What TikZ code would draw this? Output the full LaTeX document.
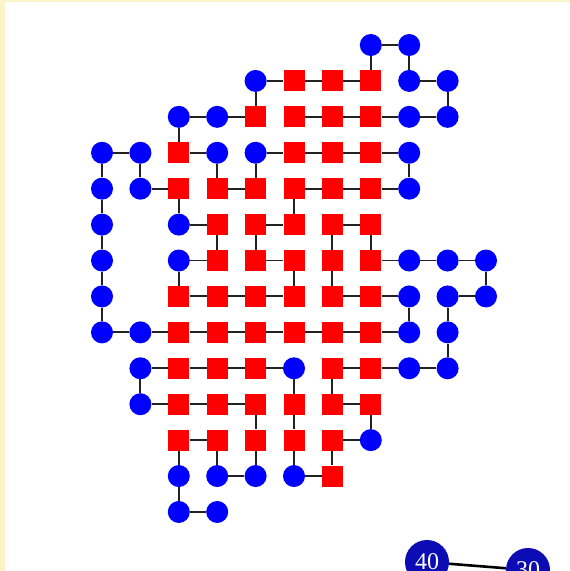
\documentclass[tikz,border=0pt]{standalone}
\usepackage{fontspec}
\newfontfamily\numfont{Liberation Serif}
\definecolor{bgyellow}{RGB}{250,245,200}
\definecolor{bigblue}{RGB}{12,12,180}
\definecolor{linkgray}{RGB}{34,34,34}
\begin{document}
\begin{tikzpicture}[x=1pt,y=-1pt,
  bn/.style={circle,fill=blue,draw=none,inner sep=0pt,minimum size=22pt},
  rn/.style={rectangle,fill=red,draw=none,inner sep=0pt,minimum size=21pt},
  link/.style={draw=linkgray,line width=1.9pt},
  bignode/.style={circle,fill=bigblue,draw=none,inner sep=0pt,minimum size=44pt,text=white,font=\numfont\fontsize{24}{24}\selectfont},
  biglink/.style={draw=black,line width=2.6pt}]
\useasboundingbox (0,0) rectangle (570,571);
\clip (0,0) rectangle (570,571);
\fill[bgyellow] (0,0) rectangle (570,571);
\fill[white] (5,2) rectangle (570,571);
% grid nodes
\foreach \r/\lst in {
  0/{7/bn,8/bn},
  1/{4/bn,5/rn,6/rn,7/rn,8/bn,9/bn},
  2/{2/bn,3/bn,4/rn,5/rn,6/rn,7/rn,8/bn,9/bn},
  3/{0/bn,1/bn,2/rn,3/bn,4/bn,5/rn,6/rn,7/rn,8/bn},
  4/{0/bn,1/bn,2/rn,3/rn,4/rn,5/rn,6/rn,7/rn,8/bn},
  5/{0/bn,2/bn,3/rn,4/rn,5/rn,6/rn,7/rn},
  6/{0/bn,2/bn,3/rn,4/rn,5/rn,6/rn,7/rn,8/bn,9/bn,10/bn},
  7/{0/bn,2/rn,3/rn,4/rn,5/rn,6/rn,7/rn,8/bn,9/bn,10/bn},
  8/{0/bn,1/bn,2/rn,3/rn,4/rn,5/rn,6/rn,7/rn,8/bn,9/bn},
  9/{1/bn,2/rn,3/rn,4/rn,5/bn,6/rn,7/rn,8/bn,9/bn},
  10/{1/bn,2/rn,3/rn,4/rn,5/rn,6/rn,7/rn},
  11/{2/rn,3/rn,4/rn,5/rn,6/rn,7/bn},
  12/{2/bn,3/bn,4/bn,5/bn,6/rn},
  13/{2/bn,3/bn}}{
  \foreach \c/\t in \lst {
    \node[\t] (n\r-\c) at ({102+38.4*\c},{45+35.92*\r}) {};
  }
}
% horizontal links: listed column c joins c and c+1
\foreach \r/\lst in {
  0/{7},
  1/{4,5,6,8},
  2/{2,3,5,6,7,8},
  3/{0,2,4,5,6,7},
  4/{1,3,5,6,7},
  5/{2,4,6},
  6/{2,4,7,8,9},
  7/{2,3,4,6,7,9},
  8/{0,1,2,3,4,5,6,7},
  9/{1,2,3,4,6,7,8},
  10/{1,2,3,6},
  11/{2,6},
  12/{3,5},
  13/{2}}{
  \foreach \c in \lst {
    \pgfmathtruncatemacro\d{\c+1}
    \draw[link] (n\r-\c) -- (n\r-\d);
  }
}
% vertical links: listed row r joins r and r+1
\foreach \c/\lst in {
  0/{3,4,5,6,7},
  1/{3,9},
  2/{2,4,6,11,12},
  3/{3,5,11},
  4/{1,3,5,10,11},
  5/{4,6,9,10,11},
  6/{5,6,9,11},
  7/{0,5,10},
  8/{0,3,7},
  9/{1,7,8},
  10/{6}}{
  \foreach \r in \lst {
    \pgfmathtruncatemacro\s{\r+1}
    \draw[link] (n\r-\c) -- (n\s-\c);
  }
}
% partial big nodes at the bottom
\node[bignode] (b40) at (427,562) {40};
\node[bignode] (b30) at (528,570) {30};
\draw[biglink] (b40) -- (b30);
\end{tikzpicture}
\end{document}
